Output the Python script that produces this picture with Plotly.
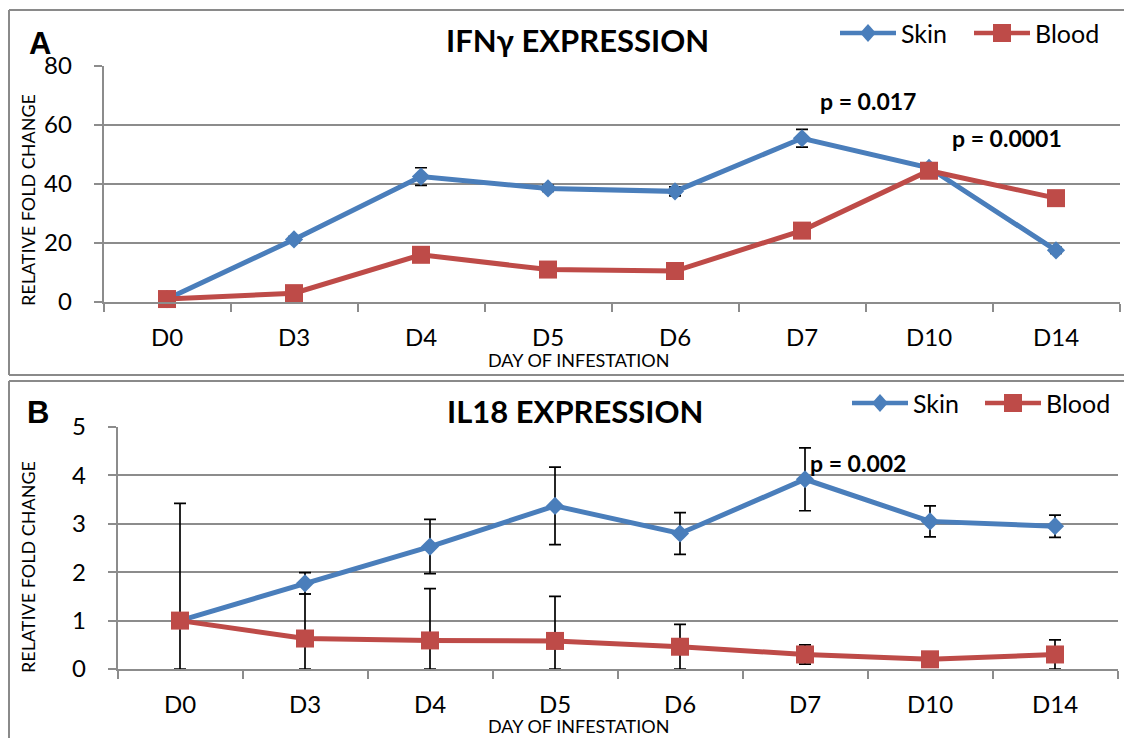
import plotly.graph_objects as go

# ---- data -------------------------------------------------------------
days = ["D0", "D3", "D4", "D5", "D6", "D7", "D10", "D14"]

ifng_skin = [1.0, 21.2, 42.5, 38.5, 37.5, 55.5, 45.5, 17.5]
ifng_skin_err = [0.3, 1.0, 3.0, 1.0, 1.5, 3.0, 1.0, 1.0]
ifng_blood = [1.0, 3.0, 16.0, 11.0, 10.5, 24.2, 44.5, 35.2]
ifng_blood_err = [0.3, 0.5, 1.0, 0.8, 0.8, 1.0, 1.0, 1.0]

il18_skin = [1.0, 1.77, 2.53, 3.37, 2.80, 3.92, 3.05, 2.95]
il18_skin_err = [2.42, 0.22, 0.56, 0.80, 0.43, 0.65, 0.32, 0.23]
il18_blood = [1.0, 0.63, 0.59, 0.58, 0.46, 0.30, 0.20, 0.30]
il18_blood_err = [0.0, 0.92, 1.07, 0.92, 0.46, 0.20, 0.05, 0.30]

ifng_ticks = [0, 20, 40, 60, 80]
il18_ticks = [0, 1, 2, 3, 4, 5]

# ---- styling ----------------------------------------------------------
W, H = 1124, 738
BLUE = "#4A7EBB"
RED = "#BE4B48"
GRID = "#8C8C8C"
FONT = "Lato"
DIAMOND, SQUARE = 14, 18


def px(x):
    return x / W


def py(y):
    return 1 - y / H


def err_minus(vals, errs):
    # keep the lower whisker above zero on the axis
    return [min(v, e) for v, e in zip(vals, errs)]


def series(name, x, y, err, color, symbol, size, xa, ya):
    return go.Scatter(
        x=x, y=y, name=name, mode="lines+markers",
        line=dict(color=color, width=5),
        marker=dict(symbol=symbol, size=size, color=color),
        error_y=dict(type="data", array=err, arrayminus=err_minus(y, err),
                     color="black", thickness=1.7, width=6, visible=True),
        xaxis=xa, yaxis=ya, showlegend=False, cliponaxis=False,
    )


fig = go.Figure()
fig.add_trace(series("Skin", days, ifng_skin, ifng_skin_err, BLUE, "diamond", DIAMOND, "x", "y"))
fig.add_trace(series("Blood", days, ifng_blood, ifng_blood_err, RED, "square", SQUARE, "x", "y"))
fig.add_trace(series("Skin", days, il18_skin, il18_skin_err, BLUE, "diamond", DIAMOND, "x2", "y2"))
fig.add_trace(series("Blood", days, il18_blood, il18_blood_err, RED, "square", SQUARE, "x2", "y2"))

xcommon = dict(
    type="category", range=[-0.5, 7.5], showgrid=False, showline=True,
    linecolor=GRID, linewidth=1.6, ticks="outside", tickson="boundaries",
    ticklen=8, tickcolor=GRID, tickwidth=1.6,
    tickfont=dict(family=FONT, size=24, color="black"), ticklabelstandoff=13,
    fixedrange=True,
)
ycommon = dict(
    showgrid=True, gridcolor=GRID, gridwidth=1.6, showline=True,
    linecolor=GRID, linewidth=1.6, ticks="outside", ticklen=8,
    tickcolor=GRID, tickwidth=1.6, zeroline=False,
    tickfont=dict(family=FONT, size=24, color="black"), ticklabelstandoff=17,
)

fig.update_layout(
    width=W, height=H, margin=dict(l=0, r=0, t=0, b=0, autoexpand=False),
    paper_bgcolor="white", plot_bgcolor="white",
    font=dict(family=FONT, color="black"), showlegend=False,
    xaxis=dict(xcommon, domain=[px(103.5), px(1119.5)], anchor="y"),
    yaxis=dict(ycommon, domain=[py(302), py(66)], range=[0, 80],
               tickvals=ifng_ticks, anchor="x"),
    xaxis2=dict(xcommon, domain=[px(117.5), px(1117.5)], anchor="y2"),
    yaxis2=dict(ycommon, domain=[py(669), py(427)], range=[0, 5],
                tickvals=il18_ticks, anchor="x2"),
)

# panel frames
frame = dict(type="line", xref="paper", yref="paper", line=dict(color="#8A8A8A", width=2))
fig.add_shape(frame, x0=px(9), x1=px(1124), y0=py(10), y1=py(10))
fig.add_shape(frame, x0=px(9), x1=px(9), y0=py(10), y1=py(375))
fig.add_shape(frame, x0=px(9), x1=px(1124), y0=py(375), y1=py(375))
fig.add_shape(frame, x0=px(9), x1=px(1124), y0=py(381), y1=py(381))
fig.add_shape(frame, x0=px(9), x1=px(9), y0=py(381), y1=py(738))


def label(text, x, y, size, bold=False, family=FONT, angle=0, anchor="center"):
    fig.add_annotation(
        text=f"<b>{text}</b>" if bold else text, x=px(x), y=py(y),
        xref="paper", yref="paper", showarrow=False, textangle=angle,
        font=dict(family=family, size=size, color="black"),
        xanchor=anchor, yanchor="middle",
    )


def legend_key(x0, x1, y, color, symbol, text):
    # line sample with a marker in the middle, then the series name
    fig.add_shape(type="line", xref="paper", yref="paper",
                  x0=px(x0), x1=px(x1), y0=py(y), y1=py(y),
                  line=dict(color=color, width=4.5))
    cx = (x0 + x1) / 2
    if symbol == "diamond":
        a, b = 8, 9
        path = (f"M {px(cx - a)},{py(y)} L {px(cx)},{py(y - b)} "
                f"L {px(cx + a)},{py(y)} L {px(cx)},{py(y + b)} Z")
        fig.add_shape(type="path", xref="paper", yref="paper", path=path,
                      fillcolor=color, line=dict(color=color, width=0))
    else:
        s = 9
        fig.add_shape(type="rect", xref="paper", yref="paper",
                      x0=px(cx - s), x1=px(cx + s), y0=py(y - s), y1=py(y + s),
                      fillcolor=color, line=dict(color=color, width=0))
    label(text, x1 + 3, y, 25, anchor="left")


legend_key(840, 896, 33, BLUE, "diamond", "Skin")
legend_key(974, 1030, 33, RED, "square", "Blood")
legend_key(852, 908, 403, BLUE, "diamond", "Skin")
legend_key(985, 1041, 403, RED, "square", "Blood")

# titles and panel letters
label("IFNγ EXPRESSION", 577, 40, 31, bold=True)
label("IL18 EXPRESSION", 575, 411, 31, bold=True)
label("A", 40, 44, 31, bold=True, family="Liberation Sans")
label("B", 38, 412, 31, bold=True, family="Liberation Sans")

# axis titles
label("DAY OF INFESTATION", 578, 360, 18)
label("DAY OF INFESTATION", 578, 726, 18)
label("RELATIVE FOLD CHANGE", 28, 200, 18, angle=-90)
label("RELATIVE FOLD CHANGE", 28, 567, 18, angle=-90)

# significance labels
label("p = 0.017", 868, 101, 23, bold=True)
label("p = 0.0001", 1007, 138, 23, bold=True)
label("p = 0.002", 858, 463, 23, bold=True)

fig.write_html("out.html")
